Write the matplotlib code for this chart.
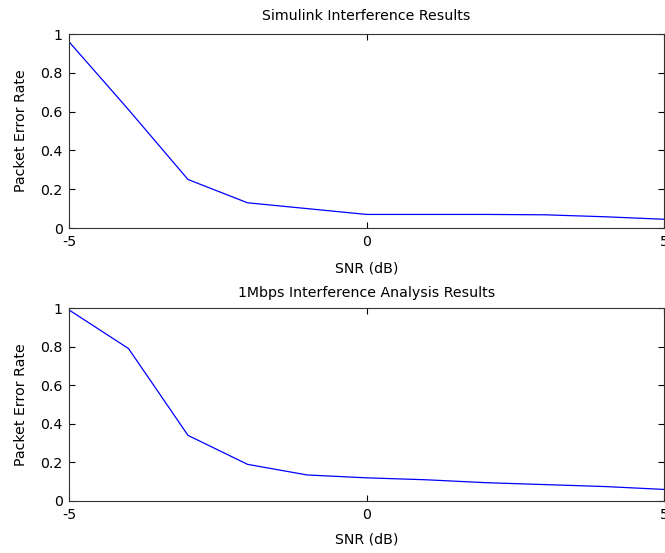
import matplotlib
matplotlib.use('Agg')
import matplotlib.pyplot as plt

# ===============================
# DATA
# ===============================
snr_db = [-5, -4, -3, -2, -1, 0, 1, 2, 3, 4, 5]
per_simulink = [0.96, 0.61, 0.25, 0.13, 0.10, 0.07, 0.07, 0.07, 0.068, 0.058, 0.045]
per_analysis = [0.99, 0.79, 0.34, 0.19, 0.135, 0.12, 0.11, 0.095, 0.085, 0.075, 0.06]

titles = ['Simulink Interference Results', '1Mbps Interference Analysis Results']
x_ticks = [-5, 0, 5]
y_ticks = [0, 0.2, 0.4, 0.6, 0.8, 1]
y_tick_labels = ['0', '0.2', '0.4', '0.6', '0.8', '1']

plt.rcParams['font.family'] = ['DejaVu Sans']
plt.rcParams['font.size'] = 10.2

W, H = 665, 553
fig = plt.figure(figsize=(W / 100, H / 100), dpi=100)

# axes boxes in pixels: left, top, right, bottom  + title pad / xlabel pad
boxes = [(69, 34, 664, 228), (69, 308, 664, 501)]
title_pads = [10, 8]
xlabel_pads = [9, 7.5]

for box, title, per, tp, xp in zip(boxes, titles, [per_simulink, per_analysis],
                                   title_pads, xlabel_pads):
    l, t, r, b = box
    ax = fig.add_axes([l / W, 1 - b / H, (r - l) / W, (b - t) / H])
    ax.plot(snr_db, per, color='#0000ff', linewidth=0.9)
    ax.set_xlim(-5, 5)
    ax.set_ylim(0, 1)
    ax.set_xticks(x_ticks)
    ax.set_xticklabels([str(v) for v in x_ticks])
    ax.set_yticks(y_ticks)
    ax.set_yticklabels(y_tick_labels)
    ax.tick_params(axis='x', pad=5)
    ax.tick_params(axis='y', pad=4.5)
    ax.tick_params(direction='in', length=4, width=0.8, top=True, right=True,
                   colors='black')
    for s in ax.spines.values():
        s.set_linewidth(0.8)
        s.set_color('#333333')
    ax.set_title(title, fontsize=10.2, pad=tp)
    ax.set_xlabel('SNR (dB)', labelpad=xp)
    ax.set_ylabel('Packet Error Rate', labelpad=9)

fig.savefig('out.png', dpi=100)
